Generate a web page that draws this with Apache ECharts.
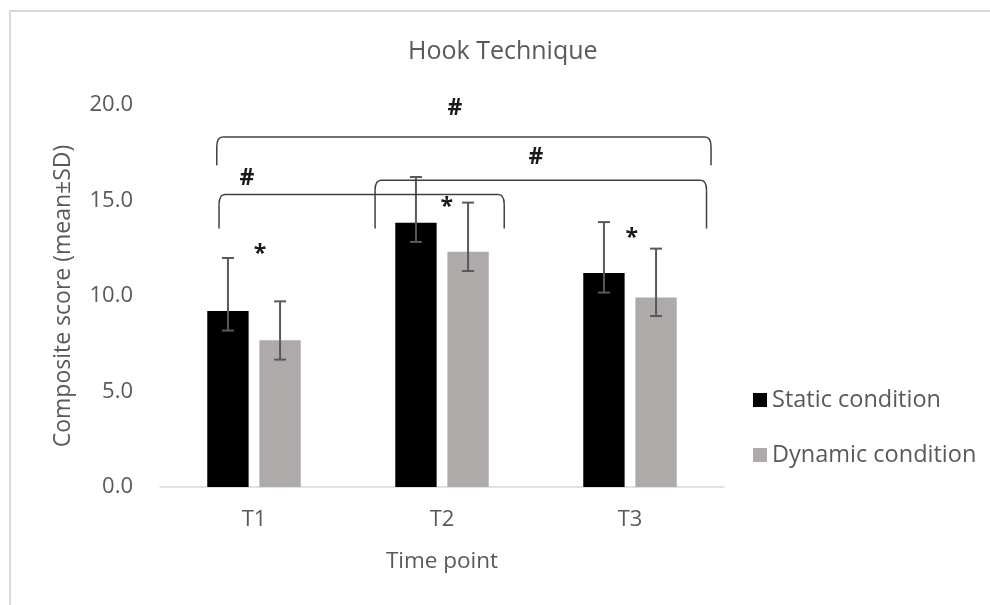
<!DOCTYPE html>
<html>
<head>
<meta charset="utf-8">
<script src="https://cdn.jsdelivr.net/npm/echarts@6/dist/echarts.min.js"></script>
<style>
    html, body { margin: 0; padding: 0; background: #fff; }
    #chart { width: 990px; height: 605px; }
</style>
</head>
<body>
<div id="chart"></div>
<script>
    // data
    var categories = ['T1', 'T2', 'T3'];
    var staticMean = [9.21, 13.84, 11.20];
    var staticLow = [8.19, 12.83, 10.18];
    var staticHigh = [11.99, 16.23, 13.87];
    var dynamicMean = [7.68, 12.32, 9.92];
    var dynamicLow = [6.67, 11.31, 8.95];
    var dynamicHigh = [9.72, 14.89, 12.48];
    var yTicks = [0, 5, 10, 15, 20];

    // significance brackets: [from, to, top, foot] (x in category units)
    var brackets = [
        [-0.198, 2.431, 18.32, 16.84],
        [0.644, 2.407, 16.06, 13.53],
        [-0.186, 1.331, 15.31, 13.53]
    ];
    // significance marks: [text, x, y]
    var marks = [
        ['#', 1.069, 19.84],
        ['#', 1.5, 17.25],
        ['#', -0.037, 16.18],
        ['*', 0.032, 12.20],
        ['*', 1.025, 14.61],
        ['*', 2.009, 13.03]
    ];

    var barW = 0.22, barGap = 0.26;
    var offset = (barW + barW * barGap) / 2;
    var font = '"Open Sans", sans-serif';
    var textColor = '#595959';

    function errData(low, high) {
        return low.map(function (v, i) { return [i, v, high[i]]; });
    }

    function errorBars(sign) {
        return function (params, api) {
            var x = api.value(0) + sign * offset;
            var lo = api.coord([x, api.value(1)]);
            var hi = api.coord([x, api.value(2)]);
            var cap = 6;
            var st = { stroke: '#595959', lineWidth: 2 };
            return {
                type: 'group',
                children: [
                    { type: 'line', shape: { x1: lo[0], y1: lo[1], x2: hi[0], y2: hi[1] }, style: st },
                    { type: 'line', shape: { x1: lo[0] - cap, y1: lo[1], x2: lo[0] + cap, y2: lo[1] }, style: st },
                    { type: 'line', shape: { x1: hi[0] - cap, y1: hi[1], x2: hi[0] + cap, y2: hi[1] }, style: st }
                ]
            };
        };
    }

    function drawBracket(params, api) {
        var l = api.coord([api.value(0), api.value(2)]);
        var r = api.coord([api.value(1), api.value(2)]);
        var foot = api.coord([api.value(0), api.value(3)])[1];
        var t = l[1];
        var st = { stroke: '#404040', lineWidth: 1.5, fill: null };
        return {
            type: 'group',
            children: [
                { type: 'line', shape: { x1: l[0], y1: foot, x2: l[0], y2: t + 10 }, style: st },
                { type: 'bezierCurve', shape: { x1: l[0], y1: t + 10, cpx1: l[0], cpy1: t, x2: l[0] + 6, y2: t }, style: st },
                { type: 'line', shape: { x1: l[0] + 6, y1: t, x2: r[0] - 6, y2: t }, style: st },
                { type: 'bezierCurve', shape: { x1: r[0] - 6, y1: t, cpx1: r[0], cpy1: t, x2: r[0], y2: t + 10 }, style: st },
                { type: 'line', shape: { x1: r[0], y1: t + 10, x2: r[0], y2: foot }, style: st }
            ]
        };
    }

    function drawMark(params, api) {
        var p = api.coord([api.value(1), api.value(2)]);
        return {
            type: 'text',
            style: {
                text: api.value(0), x: p[0], y: p[1],
                align: 'center', verticalAlign: 'middle',
                fontSize: 23, fontWeight: 'bold', fontFamily: font, fill: '#1a1a1a'
            }
        };
    }

    var myChart = echarts.init(document.getElementById('chart'));
    myChart.setOption({
        animation: false,
        title: {
            text: 'Hook Technique',
            left: 403,
            top: 34,
            textStyle: { fontFamily: font, fontSize: 25, fontWeight: 'normal', color: textColor }
        },
        graphic: [{
            type: 'rect',
            shape: { x: 10, y: 11, width: 1000, height: 700 },
            style: { stroke: '#d9d9d9', lineWidth: 2, fill: null },
            silent: true
        }],
        legend: {
            orient: 'vertical',
            left: 748,
            top: 383,
            itemWidth: 14,
            itemHeight: 14,
            itemGap: 31,
            icon: 'rect',
            textStyle: { fontFamily: font, fontSize: 23.5, color: textColor, lineHeight: 24 },
            data: ['Static condition', 'Dynamic condition']
        },
        grid: { left: 160, right: 266, top: 105, bottom: 118 },
        xAxis: [{
            type: 'category',
            data: categories,
            axisLine: { lineStyle: { color: '#d9d9d9', width: 1.5 } },
            axisTick: { show: false },
            axisLabel: { fontFamily: font, fontSize: 22, color: textColor, margin: 22 },
            name: 'Time point',
            nameLocation: 'middle',
            nameGap: 63,
            nameTextStyle: { fontFamily: font, fontSize: 22.5, color: textColor }
        }, {
            type: 'value',
            min: -0.5,
            max: 2.5,
            show: false
        }],
        yAxis: {
            type: 'value',
            min: yTicks[0],
            max: yTicks[yTicks.length - 1],
            interval: yTicks[1] - yTicks[0],
            axisLine: { show: false },
            axisTick: { show: false },
            splitLine: { show: false },
            axisLabel: {
                fontFamily: font, fontSize: 22, color: textColor, margin: 27,
                formatter: function (v) { return v.toFixed(1); }
            },
            name: 'Composite score (mean±SD)',
            nameLocation: 'middle',
            nameGap: 85,
            nameTextStyle: { fontFamily: font, fontSize: 23, color: textColor }
        },
        series: [{
            name: 'Static condition',
            type: 'bar',
            data: staticMean,
            barWidth: (barW * 100) + '%',
            barGap: (barGap * 100) + '%',
            itemStyle: { color: '#000000' }
        }, {
            name: 'Dynamic condition',
            type: 'bar',
            data: dynamicMean,
            barWidth: (barW * 100) + '%',
            barGap: (barGap * 100) + '%',
            itemStyle: { color: '#aeaaaa' }
        }, {
            type: 'custom',
            xAxisIndex: 1,
            data: errData(staticLow, staticHigh),
            renderItem: errorBars(-1),
            z: 5
        }, {
            type: 'custom',
            xAxisIndex: 1,
            data: errData(dynamicLow, dynamicHigh),
            renderItem: errorBars(1),
            z: 5
        }, {
            type: 'custom',
            xAxisIndex: 1,
            data: brackets,
            renderItem: drawBracket,
            z: 6
        }, {
            type: 'custom',
            xAxisIndex: 1,
            data: marks,
            dimensions: [{ name: 'text', type: 'ordinal' }, 'x', 'y'],
            encode: { x: 1, y: 2 },
            renderItem: drawMark,
            z: 6
        }]
    });
</script>
</body>
</html>
